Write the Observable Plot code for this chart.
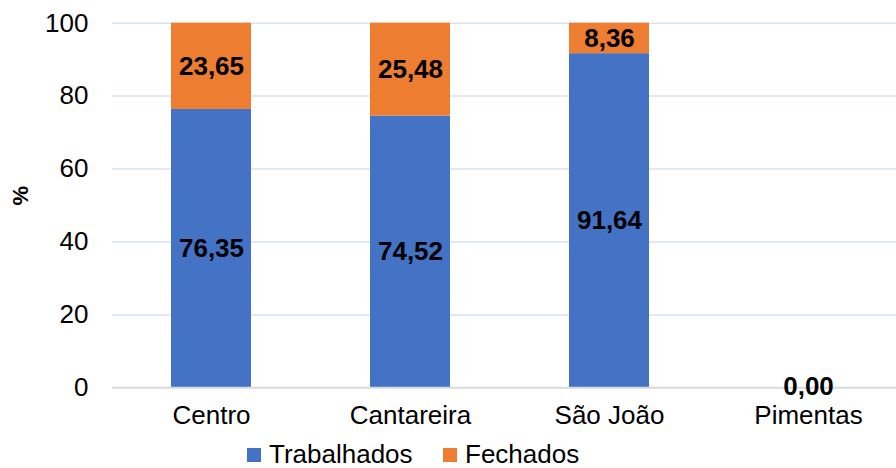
<!DOCTYPE html>
<html>
<head>
<meta charset="utf-8">
<script src="https://cdn.jsdelivr.net/npm/d3@7"></script>
<script src="https://cdn.jsdelivr.net/npm/@observablehq/plot@0.6"></script>
<style>
  html, body { margin: 0; padding: 0; background: #fff; }
  body { width: 896px; height: 468px; font-family: "Liberation Sans", Arial, sans-serif; position: relative; }
  #chart { height: 440px; }
  #legend { position: absolute; left: 0; top: 441px; width: 896px; height: 27px; }
  .item { position: absolute; top: 0; height: 27px; line-height: 27px; display: flex; align-items: center; font-size: 26px; color: #000; white-space: nowrap; }
  .sw { width: 14px; height: 14px; margin-right: 8px; flex: none; }
</style>
</head>
<body>
<div id="chart"></div>
<div id="legend"></div>
<script>
const categories = ["Centro", "Cantareira", "São João", "Pimentas"];
const series = ["Trabalhados", "Fechados"];
const trabalhados = [76.35, 74.52, 91.64, 0.00];
const fechados = [23.65, 25.48, 8.36, 0.00];
const yTicks = [0, 20, 40, 60, 80, 100];
const colors = ["#4472C4", "#ED7D31"];

const data = [];
categories.forEach((c, i) => {
  data.push({cat: c, series: series[0], value: trabalhados[i]});
  data.push({cat: c, series: series[1], value: fechados[i]});
});
const fmt = v => v.toFixed(2).replace(".", ",");
const labelData = data.filter(d => d.value > 0);
const zeroLabels = categories.filter((c, i) => trabalhados[i] + fechados[i] === 0).map(c => ({cat: c, value: 0}));

const font = "Liberation Sans, Arial, sans-serif";
const chart = Plot.plot({
  width: 896,
  height: 440,
  marginLeft: 112,
  marginRight: 0,
  marginTop: 22.7,
  marginBottom: 52.7,
  style: {fontFamily: font, fontSize: "26px", color: "#000", background: "#fff"},
  x: {domain: categories, range: [111.5, 907.5], paddingInner: 0.6, paddingOuter: 0.3, label: null},
  y: {domain: [0, 100], ticks: yTicks, label: null},
  color: {domain: series, range: colors},
  marks: [
    Plot.ruleY(yTicks.filter(t => t > 0), {stroke: "#D9E2F3", strokeWidth: 1.5}),
    Plot.barY(data, Plot.stackY({x: "cat", y: "value", fill: "series", order: series})),
    Plot.ruleY([0], {stroke: "#D9D9D9", strokeWidth: 2}),
    Plot.text(labelData, Plot.stackY({x: "cat", y: "value", z: "series", order: series, text: d => fmt(d.value), fontWeight: "bold", fontSize: 26, fill: "#000"})),
    Plot.text(zeroLabels, {x: "cat", y: "value", text: d => fmt(d.value), fontWeight: "bold", fontSize: 26, fill: "#000", dy: -1}),
    Plot.axisY({ticks: yTicks, tickSize: 0, tickPadding: 24, fontSize: 26, label: null}),
    Plot.axisX({tickSize: 0, tickPadding: 18, fontSize: 26, label: null}),
    Plot.text(["%"], {frameAnchor: "left", dx: -92, rotate: -90, fontWeight: "bold", fontSize: 22, fill: "#000"})
  ]
});
document.getElementById("chart").appendChild(chart);

const legend = document.getElementById("legend");
const lx = [247, 443];
series.forEach((s, i) => {
  const it = document.createElement("div");
  it.className = "item";
  it.style.left = lx[i] + "px";
  it.innerHTML = `<div class="sw" style="background:${colors[i]}"></div><span>${s}</span>`;
  legend.appendChild(it);
});
</script>
</body>
</html>
